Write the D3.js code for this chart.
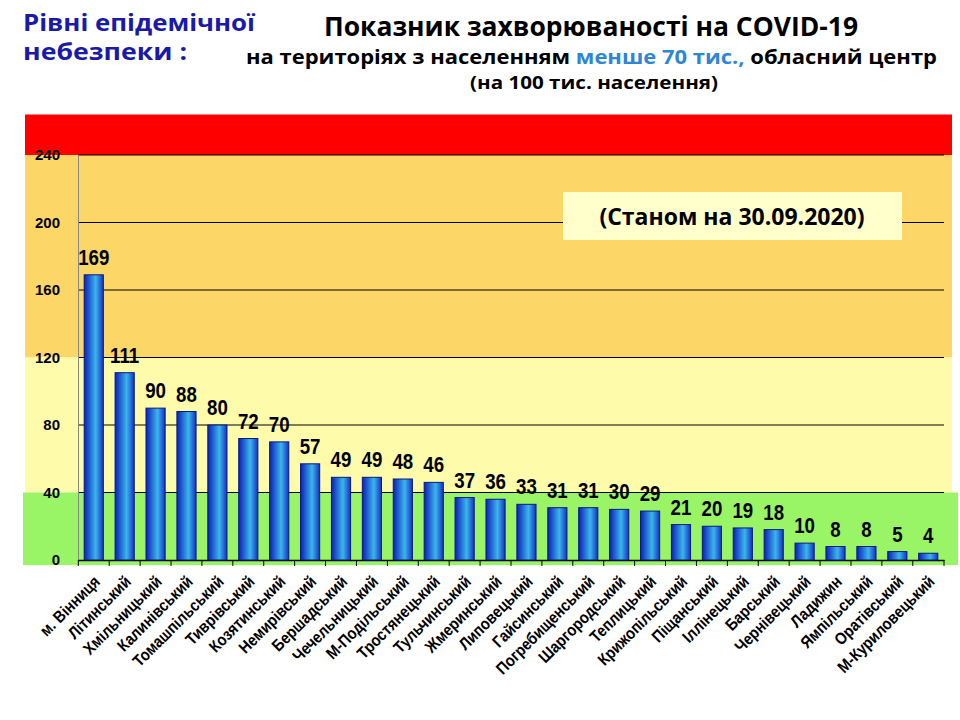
<!DOCTYPE html>
<html><head><meta charset="utf-8">
<script src="https://cdn.jsdelivr.net/npm/d3@7"></script>
<style>body{margin:0;background:#fff}</style></head>
<body><div id="chart"></div>
<script>
const districts = ["м. Вінниця","Літинський","Хмільницький","Калинівський","Томашпільський","Тиврівський","Козятинський","Немирівський","Бершадський","Чечельницький","М-Подільський","Тростянецький","Тульчинський","Жмеринський","Липовецький","Гайсинський","Погребищенський","Шаргородський","Теплицький","Крижопільський","Піщанський","Іллінецький","Барський","Чернівецький","Ладижин","Ямпільський","Оратівський","М-Куриловецький"];
const values = [169,111,90,88,80,72,70,57,49,49,48,46,37,36,33,31,31,30,29,21,20,19,18,10,8,8,5,4];
const yTicks = [0,40,80,120,160,200,240];
const zones = [
  {from:240,to:264,color:"#ff0000"},
  {from:120,to:240,color:"#fdd668"},
  {from:40,to:120,color:"#fefbab"},
  {from:-3,to:40,color:"#99f566"}
];

const W = 960, H = 720;
const svg = d3.select("#chart").append("svg").attr("width", W).attr("height", H);
const font = "'Liberation Sans',Arial,sans-serif";

const x = d3.scaleBand().domain(districts).range([78, 944]).paddingInner(0.38).paddingOuter(0.2);
const y = d3.scaleLinear().domain([0, 240]).range([560, 155]);

// gradient for bars
const g = svg.append("defs").append("linearGradient").attr("id","barg").attr("x1","0").attr("x2","1");
[["0%","#0b1fb8"],["45%","#2f8fe0"],["60%","#3ab6ea"],["100%","#1530c8"]].forEach(s =>
  g.append("stop").attr("offset", s[0]).attr("stop-color", s[1]));

// zone bands
svg.selectAll("rect.zone").data(zones).enter().append("rect")
  .attr("x", d => d.color === "#99f566" ? 23 : 25)
  .attr("width", d => d.color === "#99f566" ? 935 : 927)
  .attr("y", d => y(d.to)).attr("height", d => y(d.from) - y(d.to))
  .attr("fill", d => d.color);

// grid
svg.selectAll("line.grid").data(yTicks.filter(t => t > 0)).enter().append("line")
  .attr("x1", 78).attr("x2", 944).attr("y1", d => y(d)).attr("y2", d => y(d))
  .attr("stroke", "#000").attr("stroke-width", 1);

// axes
const ya = svg.append("g").attr("transform","translate(78,0)")
  .call(d3.axisLeft(y).tickValues(yTicks).tickSize(0).tickPadding(18));
ya.select(".domain").attr("stroke","#888");
ya.selectAll("text").attr("font-family", font).attr("font-weight","bold").attr("font-size",15).attr("fill","#000");

const xa = svg.append("g").attr("transform","translate(0,560)")
  .call(d3.axisBottom(x).tickSize(6).tickSizeOuter(0));
xa.select(".domain").attr("stroke","#000").attr("stroke-width",1.5);
xa.selectAll(".tick line").attr("stroke","#000").attr("transform", `translate(${-x.step()/2},0)`);
xa.append("line").attr("x1",944).attr("x2",944).attr("y1",0).attr("y2",6).attr("stroke","#000");
xa.selectAll("text").attr("font-family", font).attr("font-weight","bold").attr("font-size",16.5).attr("fill","#000")
  .attr("text-anchor","end").attr("dx","-0.2em").attr("dy","0.5em")
  .attr("transform","rotate(-45) translate(-8,4) scale(0.88,1)");

// bars
svg.selectAll("rect.bar").data(values).enter().append("rect")
  .attr("x", (d,i) => x(districts[i])).attr("width", x.bandwidth())
  .attr("y", d => y(d)).attr("height", d => y(0) - y(d))
  .attr("fill","url(#barg)").attr("stroke","#0a1a80").attr("stroke-width",1);

// value labels
svg.selectAll("text.val").data(values).enter().append("text")
  .attr("transform", (d,i) => `translate(${x(districts[i]) + x.bandwidth()/2},${y(d) - 10}) scale(0.85,1)`)
  .attr("text-anchor","middle").attr("font-family", font).attr("font-weight","bold")
  .attr("font-size",22).text(d => d);

// annotation box
svg.append("rect").attr("x",563).attr("y",192).attr("width",339).attr("height",48).attr("fill","#ffffcc");
svg.append("text").attr("x",732).attr("y",225).attr("text-anchor","middle")
  .attr("font-family","'Open Sans',sans-serif").attr("font-weight","bold").attr("font-size",23).text("(Станом на 30.09.2020)");

// titles
const tf = "'Open Sans',sans-serif";
function title(xp, yp, size, len, txt, color) {
  return svg.append("text").attr("x",xp).attr("y",yp).attr("font-family",tf).attr("font-weight","bold")
    .attr("font-size",size).attr("fill",color || "#000").attr("textLength",len).attr("lengthAdjust","spacingAndGlyphs").text(txt);
}
title(23, 31, 24, 232, "Рівні епідемічної", "#1a1aa8");
title(23, 60, 24, 164, "небезпеки :", "#1a1aa8");
title(324, 36, 27, 534, "Показник захворюваності на COVID-19");
const t2 = svg.append("text").attr("x",246).attr("y",64).attr("font-family",tf).attr("font-weight","bold")
  .attr("font-size",20).attr("textLength",691).attr("lengthAdjust","spacingAndGlyphs");
t2.append("tspan").text("на територіях з населенням ");
t2.append("tspan").attr("fill","#2e86d4").text("менше 70 тис.,");
t2.append("tspan").text(" обласний центр");
title(470, 89, 18, 248, "(на 100  тис. населення)");
</script></body></html>
